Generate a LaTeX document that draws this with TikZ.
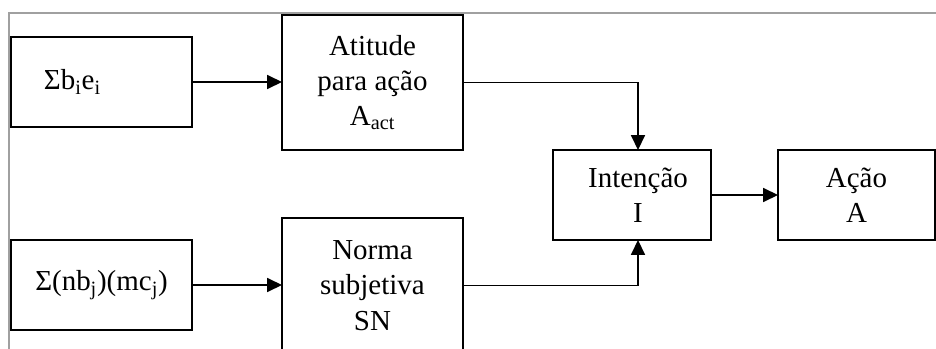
\documentclass[tikz,border=0pt]{standalone}
\usepackage{fontspec}
\setmainfont{Liberation Serif}
\usepackage{tikz}
\usetikzlibrary{arrows.meta}
\usetikzlibrary{positioning}

\definecolor{framegray}{RGB}{160,160,160}

\begin{document}
\begin{tikzpicture}[
    x=0.025cm, y=-0.025cm,
    every node/.style = {font=\fontsize{20.6}{25}\selectfont, outer sep=0pt},
    box/.style = {draw, line width=0.9pt, align=center, minimum width=4.525cm, minimum height=2.25cm},
    >={Triangle[length=0.37cm,width=0.35cm]}]
\path[use as bounding box, clip] (0,0) rectangle (936,349);

% frame
\draw[framegray, line width=0.8pt] (9,349) -- (9,13) -- (936,13);

% boxes
\node[box, text width=2.875cm, inner xsep=0.825cm, align=left] (sumbe) at (101.5,82) {Σb\textsubscript{i}e\textsubscript{i}};
\node[box] (sumnm) at (101.5,285) {Σ(nb\textsubscript{j})(mc\textsubscript{j})};
\node[box, minimum height=3.375cm] (atit) at (372.5,82.5) {Atitude\\para ação\\A\textsubscript{act}};
\node[box, minimum height=3.375cm] (norma) at (372.5,285.5) {Norma\\subjetiva\\SN};
\node[box, minimum width=3.95cm] (inten) at (632,195) {\hspace{0.3cm}Intenção\\\hspace{0.3cm}I};
\node[box, minimum width=3.925cm] (acao) at (856.5,195) {Ação\\A};

\coordinate (jn) at ([xshift=0.15cm]inten.north);
\coordinate (js) at ([xshift=0.15cm]inten.south);

% connectors
\draw[->, line width=0.9pt] (sumbe.east) -- (sumbe.east -| atit.west);
\draw[->, line width=0.9pt] (sumnm.east) -- (sumnm.east -| norma.west);
\draw[->, line width=0.9pt] (atit.east) -| (jn);
\draw[->, line width=0.9pt] (norma.east) -| (js);
\draw[->, line width=0.9pt] (inten) -- (acao);
\end{tikzpicture}
\end{document}
